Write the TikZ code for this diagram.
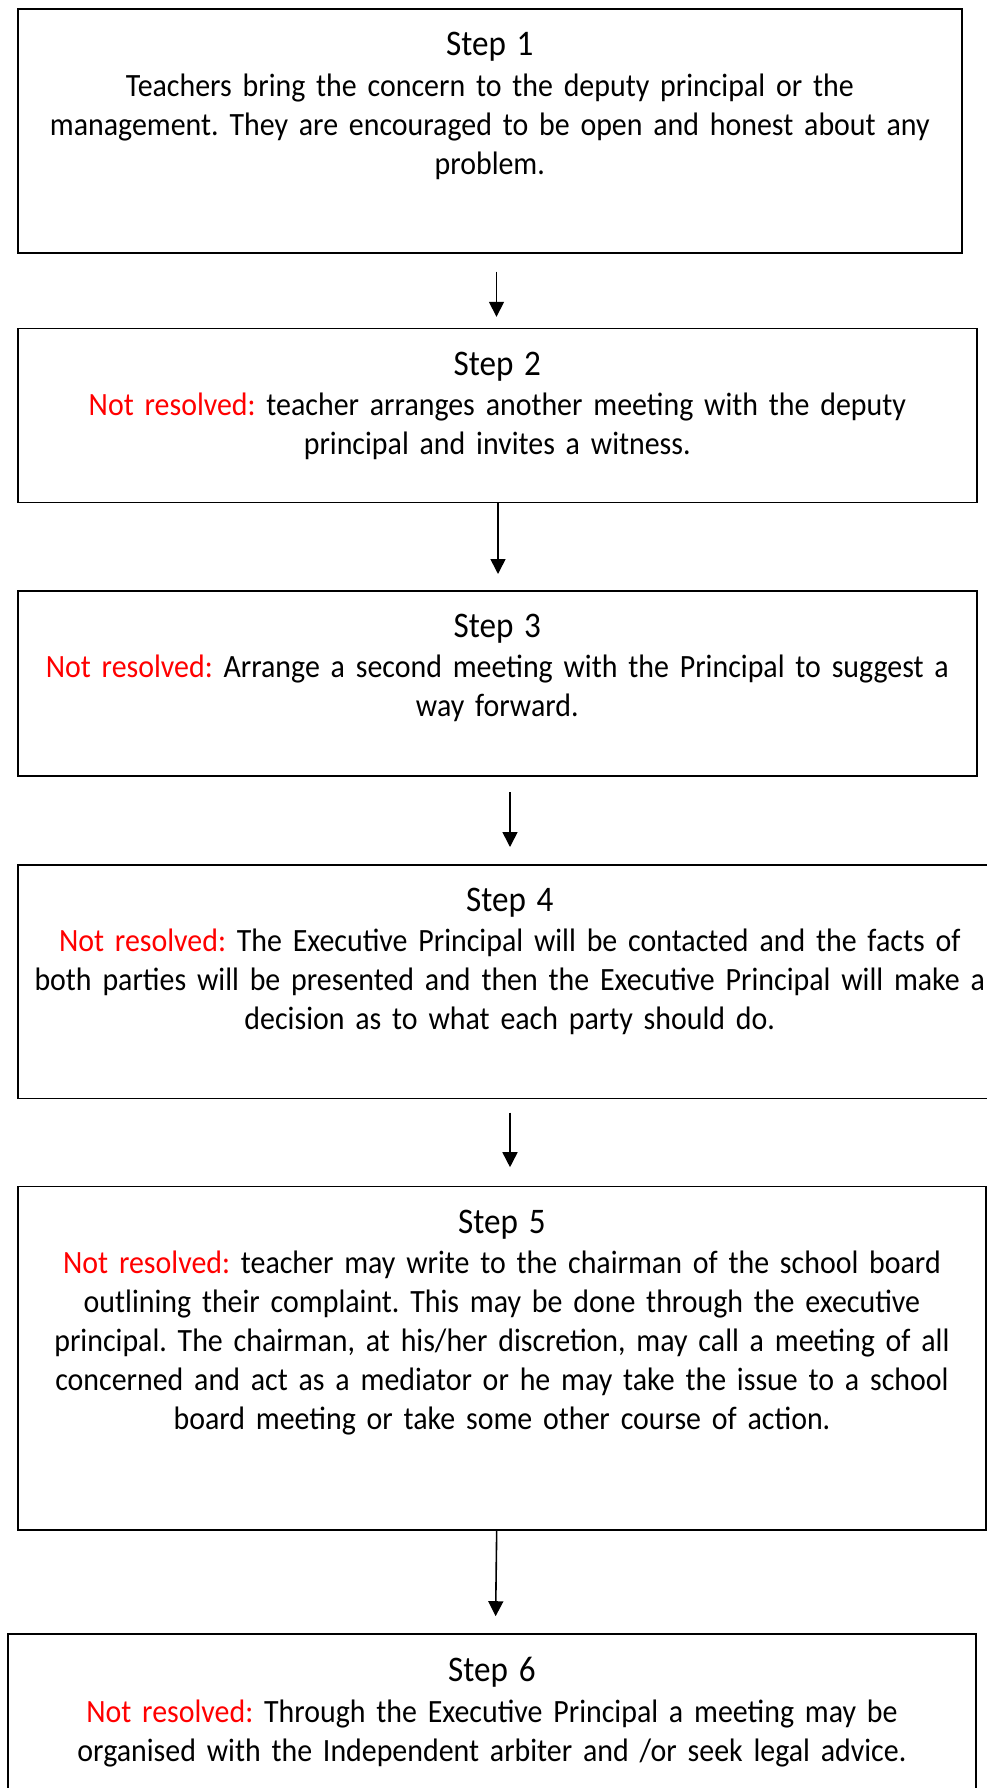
\documentclass[tikz,border=0pt]{standalone}
\usepackage{fontspec}
\setmainfont{Carlito}[FakeStretch=0.92]
\frenchspacing
\usetikzlibrary{arrows.meta}
\definecolor{nrred}{RGB}{255,0,0}
\newcommand{\nr}{\textcolor{nrred}{Not resolved:}}
\newcommand{\stephead}[1]{{\fontsize{36}{39}\selectfont #1}}
\newcommand{\bodyfont}{\fontsize{32.5}{39}\selectfont\frenchspacing
  \fontdimen2\font=5.4pt\fontdimen3\font=0pt\fontdimen4\font=0pt}
\tikzset{
  box/.style={draw=black, line width=1.8pt, rectangle, inner sep=0pt, outer sep=0pt},
  boxtext/.style={anchor=north, inner sep=0pt, outer sep=0pt, text width=1200pt, align=center,
    font=\bodyfont},
  arr/.style={line width=1.6pt, -{Triangle[length=15pt,width=15pt]}}
}
\begin{document}
\begin{tikzpicture}[x=1pt,y=-1pt]
\useasboundingbox (0,0) rectangle (987,1788);
\fill[white] (0,0) rectangle (987,1788);
\clip (0,0) rectangle (987,1788);
% boxes
\node[box, minimum width=944.4pt, minimum height=244.1pt] (s1) at (489.8,131.25) {};
\node[box, minimum width=959.4pt, minimum height=174pt]   (s2) at (497.3,415.5) {};
\node[box, minimum width=959.4pt, minimum height=185.1pt] (s3) at (497.3,683.15) {};
\node[box, minimum width=984.4pt, minimum height=233.7pt] (s4) at (509.8,981.55) {};
\node[box, minimum width=968.7pt, minimum height=343.3pt] (s5) at (501.95,1358.05) {};
\node[box, minimum width=968.7pt, minimum height=176.3pt] (s6) at (491.95,1721.85) {};
% texts
\node[boxtext] (t1) at (489.8,32.5) {\stephead{Step 1}\\[1.5pt]
Teachers bring the concern to the deputy principal or the\\
management. They are encouraged to be open and honest about any\\
problem.};
\node[boxtext] (t2) at (497.3,351.8) {\stephead{Step 2}\\[1.5pt]
\nr{} teacher arranges another meeting with the deputy\\
principal and invites a witness.};
\node[boxtext] (t3) at (497.3,613.9) {\stephead{Step 3}\\[1.5pt]
\nr{} Arrange a second meeting with the Principal to suggest a\\
way forward.};
\node[boxtext] (t4) at (509.8,888.0) {\stephead{Step 4}\\[1.5pt]
\nr{} The Executive Principal will be contacted and the facts of\\
both parties will be presented and then the Executive Principal will make a\\
decision as to what each party should do.};
\node[boxtext] (t5) at (501.95,1209.7) {\stephead{Step 5}\\[1.5pt]
\nr{} teacher may write to the chairman of the school board\\
outlining their complaint. This may be done through the executive\\
principal. The chairman, at his/her discretion, may call a meeting of all\\
concerned and act as a mediator or he may take the issue to a school\\
board meeting or take some other course of action.};
\node[boxtext] (t6) at (491.95,1657.5) {\stephead{Step 6}\\[1.5pt]
\nr{} Through the Executive Principal a meeting may be\\
organised with the Independent arbiter and /or seek legal advice.};
% arrow x positions
\coordinate (a1) at (496.5,0);
\coordinate (a2) at (498,0);
\coordinate (a3) at (510,0);
\coordinate (a4) at (510,0);
\coordinate (a5s) at (496.7,0);
\coordinate (a5e) at (495.4,0);
% arrows
\draw[arr, shorten <=18.2pt, shorten >=11.7pt] (s1.south -| a1) -- (s2.north -| a1);
\draw[arr, shorten >=16.6pt] (s2.south -| a2) -- (s3.north -| a2);
\draw[arr, shorten <=16.6pt, shorten >=17.7pt] (s3.south -| a3) -- (s4.north -| a3);
\draw[arr, shorten <=14.2pt, shorten >=19.2pt] (s4.south -| a4) -- (s5.north -| a4);
\draw[arr, shorten >=17.5pt] (s5.south -| a5s) -- (s6.north -| a5e);
\end{tikzpicture}
\end{document}
